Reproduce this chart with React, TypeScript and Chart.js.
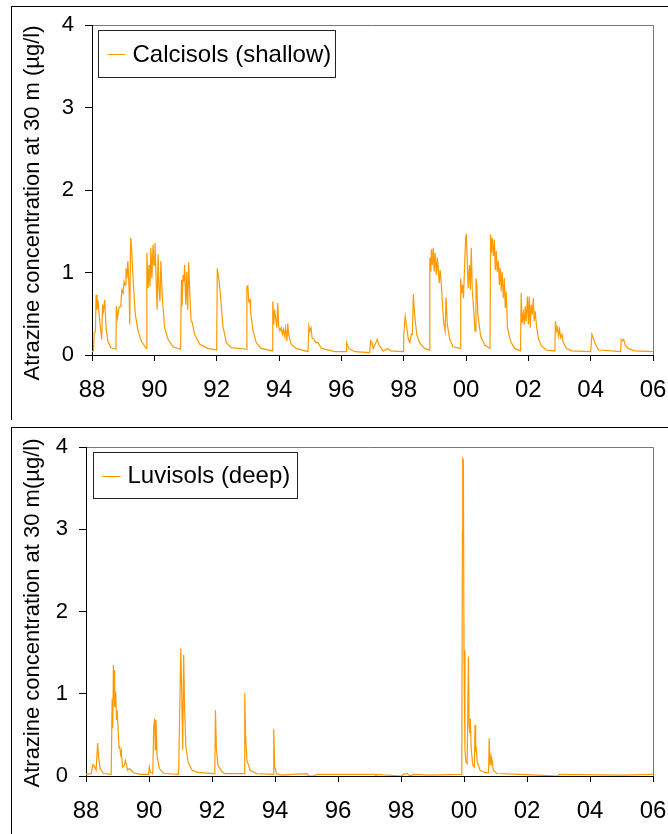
import React, { useEffect, useRef } from 'react';
import { Chart, registerables } from 'chart.js';

Chart.register(...registerables);

const FONT = '"Liberation Sans", Arial, Helvetica, sans-serif';
const LINE_COLOR = '#FF9900';

// x tick positions (years since 1900) and their labels
const xTickValues = [88, 90, 92, 94, 96, 98, 100, 102, 104, 106];
const xTickLabels = ['88', '90', '92', '94', '96', '98', '00', '02', '04', '06'];
const yTickValues = [0, 1, 2, 3, 4];

// Calcisols (shallow): [year, concentration µg/l]
const calcisolsSeries: [number, number][] = [
  [88.0, 0.04], [88.05, 0.05], [88.07, 0.27], [88.11, 0.28], [88.13, 0.73], [88.16, 0.55], [88.19, 0.67],
  [88.22, 0.53], [88.26, 0.37], [88.31, 0.19], [88.34, 0.61], [88.37, 0.53], [88.41, 0.67], [88.45, 0.33],
  [88.51, 0.17], [88.6, 0.09], [88.77, 0.07], [88.78, 0.59], [88.82, 0.45], [88.86, 0.57], [88.9, 0.59],
  [88.93, 0.65], [88.96, 0.79], [89.0, 0.75], [89.03, 0.89], [89.06, 0.85], [89.09, 1.05], [89.12, 0.93],
  [89.15, 1.14], [89.19, 0.81], [89.21, 0.37], [89.24, 1.42], [89.27, 1.3], [89.29, 1.14], [89.33, 0.85],
  [89.39, 0.49], [89.48, 0.29], [89.58, 0.17], [89.74, 0.08], [89.76, 1.24], [89.8, 0.81], [89.83, 1.09],
  [89.86, 0.83], [89.89, 1.3], [89.92, 0.93], [89.96, 1.34], [89.99, 1.09], [90.02, 1.36], [90.05, 1.01],
  [90.09, 0.55], [90.12, 1.22], [90.15, 0.81], [90.18, 0.65], [90.21, 1.14], [90.25, 0.73], [90.33, 0.33],
  [90.44, 0.19], [90.6, 0.1], [90.84, 0.07], [90.87, 0.91], [90.89, 0.59], [90.92, 0.97], [90.95, 0.89],
  [90.97, 1.09], [91.01, 0.61], [91.04, 1.01], [91.07, 0.55], [91.1, 1.12], [91.14, 0.73], [91.18, 0.41],
  [91.22, 0.39], [91.29, 0.25], [91.46, 0.13], [91.72, 0.08], [92.0, 0.06], [92.02, 1.05], [92.05, 0.97],
  [92.08, 0.89], [92.12, 0.73], [92.2, 0.35], [92.31, 0.15], [92.47, 0.09], [92.95, 0.07], [92.97, 0.83],
  [93.0, 0.84], [93.03, 0.65], [93.07, 0.67], [93.09, 0.51], [93.17, 0.29], [93.27, 0.15], [93.43, 0.08],
  [93.78, 0.05], [93.8, 0.65], [93.83, 0.37], [93.86, 0.55], [93.89, 0.45], [93.93, 0.33], [93.96, 0.63],
  [93.99, 0.35], [94.03, 0.29], [94.07, 0.33], [94.11, 0.25], [94.14, 0.31], [94.18, 0.23], [94.21, 0.33],
  [94.25, 0.17], [94.28, 0.38], [94.31, 0.25], [94.39, 0.13], [94.55, 0.08], [94.93, 0.04], [94.96, 0.35],
  [94.99, 0.29], [95.03, 0.33], [95.06, 0.21], [95.12, 0.19], [95.18, 0.15], [95.25, 0.15], [95.36, 0.08],
  [95.79, 0.04], [96.15, 0.04], [96.17, 0.15], [96.24, 0.08], [96.43, 0.04], [96.91, 0.03], [96.94, 0.17],
  [96.98, 0.15], [97.02, 0.08], [97.09, 0.13], [97.15, 0.19], [97.21, 0.12], [97.34, 0.05], [97.5, 0.08],
  [97.58, 0.05], [97.98, 0.04], [98.0, 0.23], [98.05, 0.47], [98.1, 0.33], [98.15, 0.19], [98.2, 0.15],
  [98.24, 0.25], [98.28, 0.25], [98.31, 0.74], [98.35, 0.49], [98.42, 0.25], [98.51, 0.15], [98.67, 0.08],
  [98.82, 0.06], [98.84, 1.18], [98.87, 1.01], [98.89, 1.28], [98.92, 1.09], [98.95, 1.3], [98.98, 1.01],
  [99.01, 1.24], [99.05, 0.97], [99.08, 1.18], [99.11, 1.05], [99.14, 0.87], [99.17, 1.03], [99.21, 0.85],
  [99.25, 0.57], [99.29, 0.37], [99.33, 0.29], [99.36, 0.7], [99.4, 0.37], [99.48, 0.19], [99.58, 0.1],
  [99.81, 0.08], [99.83, 0.93], [99.86, 0.75], [99.89, 0.85], [99.92, 0.69], [99.96, 1.14], [99.99, 1.42],
  [100.01, 1.47], [100.04, 1.14], [100.07, 0.81], [100.11, 1.09], [100.14, 0.79], [100.17, 1.3], [100.2, 0.79],
  [100.25, 0.53], [100.29, 0.29], [100.32, 0.93], [100.35, 0.83], [100.38, 0.49], [100.47, 0.23], [100.6, 0.12],
  [100.77, 0.08], [100.79, 1.46], [100.82, 1.24], [100.84, 1.42], [100.88, 1.2], [100.91, 1.4], [100.94, 1.03],
  [100.97, 1.26], [101.0, 1.01], [101.04, 1.14], [101.07, 0.85], [101.1, 1.05], [101.13, 0.77], [101.16, 1.01],
  [101.2, 0.69], [101.23, 0.93], [101.26, 0.57], [101.29, 0.77], [101.33, 0.33], [101.4, 0.21], [101.45, 0.15],
  [101.56, 0.08], [101.75, 0.05], [101.77, 0.75], [101.8, 0.39], [101.84, 0.51], [101.87, 0.37], [101.9, 0.59],
  [101.93, 0.41], [101.97, 0.71], [102.0, 0.37], [102.03, 0.71], [102.06, 0.33], [102.09, 0.61], [102.13, 0.49],
  [102.16, 0.69], [102.19, 0.41], [102.22, 0.53], [102.27, 0.33], [102.33, 0.19], [102.42, 0.11], [102.58, 0.06],
  [102.85, 0.05], [102.87, 0.41], [102.91, 0.29], [102.94, 0.33], [102.97, 0.23], [103.0, 0.31], [103.04, 0.21],
  [103.08, 0.25], [103.12, 0.15], [103.22, 0.08], [103.38, 0.05], [104.0, 0.04], [104.04, 0.25], [104.08, 0.21],
  [104.15, 0.13], [104.26, 0.06], [104.96, 0.04], [104.98, 0.19], [105.03, 0.17], [105.06, 0.19], [105.11, 0.12],
  [105.2, 0.08], [105.41, 0.05], [106.0, 0.04],
];

// Luvisols (deep): [year, concentration µg/l]
const luvisolsSeries: [number, number][] = [
  [88.0, 0.02], [88.17, 0.03], [88.22, 0.14], [88.26, 0.12], [88.32, 0.07], [88.37, 0.4], [88.4, 0.23],
  [88.45, 0.09], [88.56, 0.03], [88.8, 0.02], [88.83, 0.94], [88.85, 0.58], [88.87, 1.35], [88.89, 1.05],
  [88.9, 1.29], [88.92, 0.84], [88.94, 1.03], [88.97, 0.68], [88.99, 0.8], [89.03, 0.48], [89.05, 0.34],
  [89.07, 0.36], [89.1, 0.26], [89.12, 0.3], [89.16, 0.11], [89.22, 0.13], [89.25, 0.19], [89.28, 0.15],
  [89.32, 0.07], [89.38, 0.09], [89.43, 0.07], [89.51, 0.04], [89.72, 0.02], [89.99, 0.02], [90.01, 0.11],
  [90.04, 0.05], [90.12, 0.03], [90.15, 0.6], [90.18, 0.7], [90.2, 0.32], [90.22, 0.68], [90.26, 0.23],
  [90.33, 0.09], [90.47, 0.03], [90.94, 0.02], [90.96, 0.46], [91.01, 1.55], [91.04, 0.96], [91.07, 0.32],
  [91.1, 1.47], [91.13, 0.84], [91.17, 0.36], [91.24, 0.17], [91.37, 0.07], [91.58, 0.04], [92.09, 0.03],
  [92.11, 0.8], [92.14, 0.32], [92.19, 0.13], [92.32, 0.05], [92.41, 0.03], [93.02, 0.03], [93.04, 1.01],
  [93.07, 0.44], [93.11, 0.19], [93.21, 0.07], [93.42, 0.03], [93.94, 0.02], [93.96, 0.57], [93.99, 0.11],
  [94.05, 0.03], [94.21, 0.01], [94.53, 0.02], [95.01, 0.03], [95.08, 0.0], [95.22, 0.0], [95.33, 0.02],
  [97.17, 0.02], [97.2, 0.0], [97.23, 0.02], [98.02, 0.0], [98.07, 0.02], [98.2, 0.03], [98.29, 0.0],
  [98.4, 0.02], [98.92, 0.01], [99.93, 0.02], [99.95, 2.99], [99.96, 3.86], [99.98, 3.84], [100.0, 1.53],
  [100.03, 0.32], [100.06, 0.17], [100.1, 0.15], [100.14, 1.45], [100.16, 0.64], [100.18, 0.52], [100.2, 0.7],
  [100.23, 0.32], [100.28, 0.13], [100.33, 0.11], [100.35, 0.62], [100.37, 0.32], [100.39, 0.34], [100.42, 0.17],
  [100.51, 0.07], [100.67, 0.04], [100.78, 0.04], [100.8, 0.46], [100.83, 0.13], [100.86, 0.23], [100.88, 0.15],
  [100.9, 0.17], [100.93, 0.07], [101.04, 0.03], [101.78, 0.02], [102.98, 0.0], [103.02, 0.02], [105.0, 0.01],
  [106.0, 0.02],
];

type PanelSpec = {
  label: string;
  yTitle: string;
  series: [number, number][];
  top: number;
  height: number;
  frameTop: number;
  padTop: number;
  padBottom: number;
  yAxisWidth: number;
  titleX: number;
  titleY: number;
  legendX: number;
  legendY: number;
  legendW: number;
  legendH: number;
};

const panels: PanelSpec[] = [
  {
    label: 'Calcisols (shallow)',
    yTitle: 'Atrazine concentration at 30 m (µg/l)',
    series: calcisolsSeries,
    top: 0, height: 420, frameTop: 6.5,
    padTop: 25, padBottom: 15, yAxisWidth: 92,
    titleX: 33, titleY: 203,
    legendX: 98.5, legendY: 30.5, legendW: 237, legendH: 47,
  },
  {
    label: 'Luvisols (deep)',
    yTitle: 'Atrazine concentration at 30 m(µg/l)',
    series: luvisolsSeries,
    top: 420, height: 414, frameTop: 7.5,
    padTop: 27, padBottom: 8, yAxisWidth: 86,
    titleX: 33, titleY: 193,
    legendX: 93.5, legendY: 32.5, legendW: 204, legendH: 46,
  },
];

function Panel({ spec }: { spec: PanelSpec }) {
  const ref = useRef<HTMLCanvasElement | null>(null);
  useEffect(() => {
    if (!ref.current) return;
    const decor = {
      id: 'decor',
      beforeDraw(chart: any) {
        const { ctx, chartArea } = chart;
        ctx.save();
        // outer frame
        ctx.strokeStyle = '#000';
        ctx.lineWidth = 1;
        ctx.strokeRect(11.5, spec.frameTop, 700, spec.height + 20);
        // plot area top/right border
        ctx.strokeStyle = '#777';
        ctx.beginPath();
        ctx.moveTo(chartArea.left, chartArea.top + 0.5);
        ctx.lineTo(chartArea.right + 0.5, chartArea.top + 0.5);
        ctx.lineTo(chartArea.right + 0.5, chartArea.bottom);
        ctx.stroke();
        ctx.restore();
      },
      afterDraw(chart: any) {
        const { ctx } = chart;
        ctx.save();
        // y-axis title
        ctx.fillStyle = '#000';
        ctx.font = `22px ${FONT}`;
        ctx.textAlign = 'center';
        ctx.textBaseline = 'middle';
        ctx.translate(spec.titleX, spec.titleY);
        ctx.rotate(-Math.PI / 2);
        ctx.fillText(spec.yTitle, 0, 0);
        ctx.restore();
        // legend box
        ctx.save();
        ctx.fillStyle = '#fff';
        ctx.fillRect(spec.legendX, spec.legendY, spec.legendW, spec.legendH);
        ctx.strokeStyle = '#222';
        ctx.lineWidth = 1;
        ctx.strokeRect(spec.legendX, spec.legendY, spec.legendW, spec.legendH);
        const cy = spec.legendY + spec.legendH / 2;
        ctx.strokeStyle = LINE_COLOR;
        ctx.beginPath();
        ctx.moveTo(spec.legendX + 9, Math.round(cy) + 0.5);
        ctx.lineTo(spec.legendX + 27, Math.round(cy) + 0.5);
        ctx.stroke();
        ctx.fillStyle = '#000';
        ctx.font = `24px ${FONT}`;
        ctx.textAlign = 'left';
        ctx.textBaseline = 'middle';
        ctx.fillText(chart.data.datasets[0].label, spec.legendX + 34, cy + 1);
        ctx.restore();
      },
    };
    const chart = new Chart(ref.current, {
      type: 'line',
      data: {
        datasets: [
          {
            label: spec.label,
            data: spec.series.map(([x, y]) => ({ x, y })),
            borderColor: LINE_COLOR,
            backgroundColor: LINE_COLOR,
            borderWidth: 1.2,
            pointRadius: 0,
            tension: 0,
            fill: false,
          },
        ],
      },
      options: {
        responsive: false,
        animation: false,
        devicePixelRatio: 1,
        layout: { padding: { left: 0, top: spec.padTop, right: 15, bottom: spec.padBottom } },
        plugins: { legend: { display: false }, tooltip: { enabled: false }, title: { display: false } },
        scales: {
          x: {
            type: 'linear',
            min: 88,
            max: 106,
            afterBuildTicks: (s: any) => { s.ticks = xTickValues.map((v) => ({ value: v })); },
            afterFit: (s: any) => { s.height = 50; s.paddingLeft = 0; s.paddingRight = 0; },
            ticks: {
              autoSkip: false,
              maxRotation: 0,
              padding: 15,
              color: '#000',
              font: { family: FONT, size: 24 },
              callback: (_v: any, i: number) => xTickLabels[i],
            },
            grid: { drawOnChartArea: false, drawTicks: true, tickLength: 6, color: '#000' },
            border: { display: true, color: '#000', width: 1 },
          },
          y: {
            type: 'linear',
            min: 0,
            max: 4,
            afterBuildTicks: (s: any) => { s.ticks = yTickValues.map((v) => ({ value: v })); },
            afterFit: (s: any) => { s.width = spec.yAxisWidth; s.paddingTop = 0; s.paddingBottom = 0; },
            ticks: {
              padding: 11,
              color: '#000',
              font: { family: FONT, size: 22 },
              callback: (v: any) => String(v),
            },
            grid: { drawOnChartArea: false, drawTicks: true, tickLength: 7, color: '#000' },
            border: { display: true, color: '#000', width: 1 },
          },
        },
      },
      plugins: [decor],
    } as any);
    return () => chart.destroy();
  }, [spec]);
  return (
    <canvas
      ref={ref}
      width={668}
      height={spec.height}
      style={{ position: 'absolute', left: 0, top: spec.top, width: 668, height: spec.height }}
    />
  );
}

export default function App() {
  return (
    <div style={{ position: 'absolute', left: 0, top: 0, width: 668, height: 834, background: '#fff', overflow: 'hidden' }}>
      {panels.map((p) => (
        <Panel key={p.label} spec={p} />
      ))}
    </div>
  );
}
